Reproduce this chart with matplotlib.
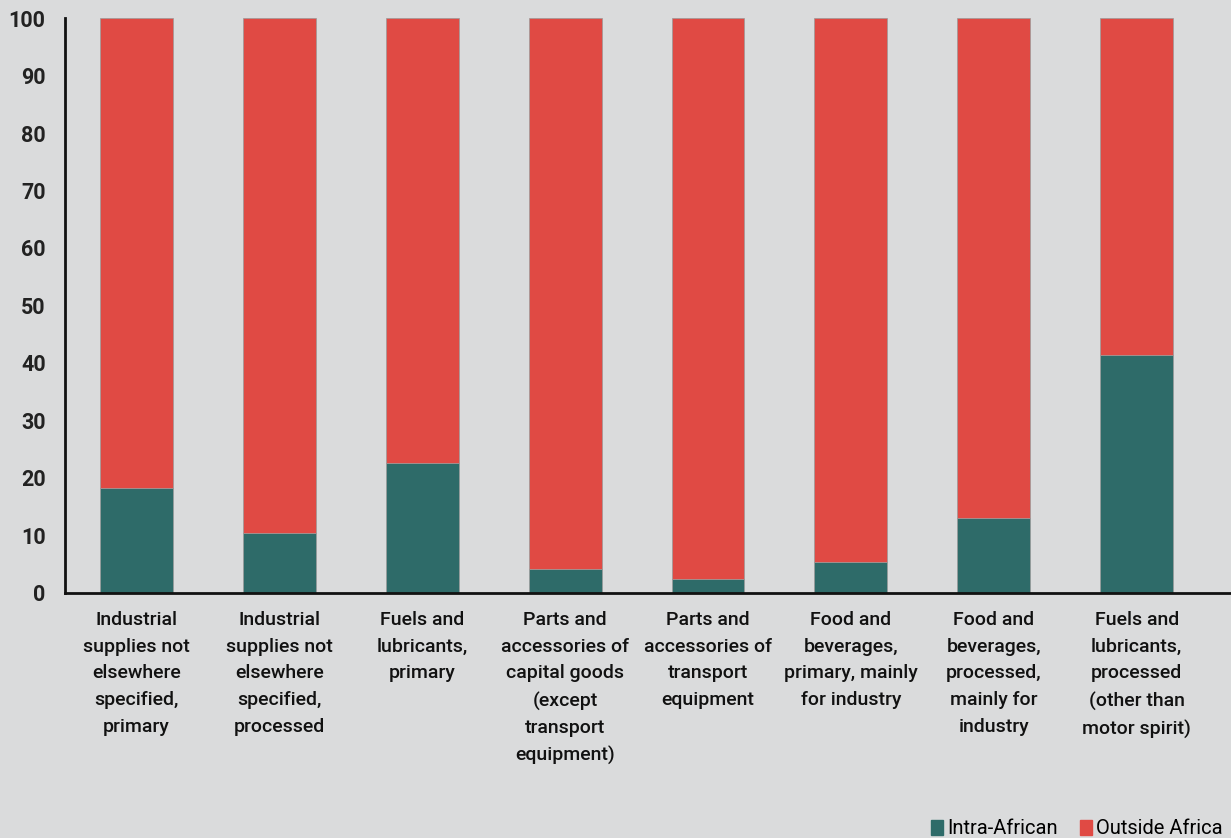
import matplotlib
matplotlib.use("Agg")
import matplotlib.pyplot as plt
from matplotlib.patches import Patch
import numpy as np

categories = ["Industrial\nsupplies not\nelsewhere\nspecified,\nprimary",
              "Industrial\nsupplies not\nelsewhere\nspecified,\nprocessed",
              "Fuels and\nlubricants,\nprimary",
              "Parts and\naccessories of\ncapital goods\n(except\ntransport\nequipment)",
              "Parts and\naccessories of\ntransport\nequipment",
              "Food and\nbeverages,\nprimary, mainly\nfor industry",
              "Food and\nbeverages,\nprocessed,\nmainly for\nindustry",
              "Fuels and\nlubricants,\nprocessed\n(other than\nmotor spirit)"]
intra = [18.3, 10.4, 22.6, 4.2, 2.4, 5.4, 13.0, 41.4]
outside = [100 - v for v in intra]

BG = "#dadbdc"; GREEN = "#2e6b69"; RED = "#e04a44"
plt.rcParams["font.family"] = ["Roboto", "DejaVu Sans"]

fig = plt.figure(figsize=(12.31, 8.38), dpi=100, facecolor=BG)
ax = fig.add_axes([0.0528, 0.2924, 0.9472, 0.6861], facecolor=BG)
x = np.arange(len(categories))
ax.bar(x, intra, width=0.51, color=GREEN, edgecolor="#9a9a9a", lw=0.5)
ax.bar(x, outside, bottom=intra, width=0.51, color=RED, edgecolor="#9a9a9a", lw=0.5)
ax.set_xlim(-0.5, 7.66); ax.set_ylim(0, 100)
ax.set_yticks(range(0, 101, 10))
ax.set_yticklabels([str(v) for v in range(0, 101, 10)], fontsize=15.5, fontweight="bold", color="#222")
ax.tick_params(axis="y", length=0, pad=14)
ax.tick_params(axis="x", length=0, pad=13)
ax.set_xticks(x)
ax.set_xticklabels(categories, fontsize=14, fontweight="medium", color="#111", linespacing=1.62, va="top")
for s in ["top", "right"]: ax.spines[s].set_visible(False)
for s in ["left", "bottom"]: ax.spines[s].set_linewidth(2); ax.spines[s].set_color("#111")

fig.legend(handles=[Patch(color=GREEN, label="Intra-African"), Patch(color=RED, label="Outside Africa")],
           loc="lower right", bbox_to_anchor=(1.008, -0.022), ncol=2, frameon=False, fontsize=14.5,
           handlelength=0.6, handleheight=0.8, handletextpad=0.2, columnspacing=1.1)
fig.savefig("out.png", dpi=100, facecolor=BG)
